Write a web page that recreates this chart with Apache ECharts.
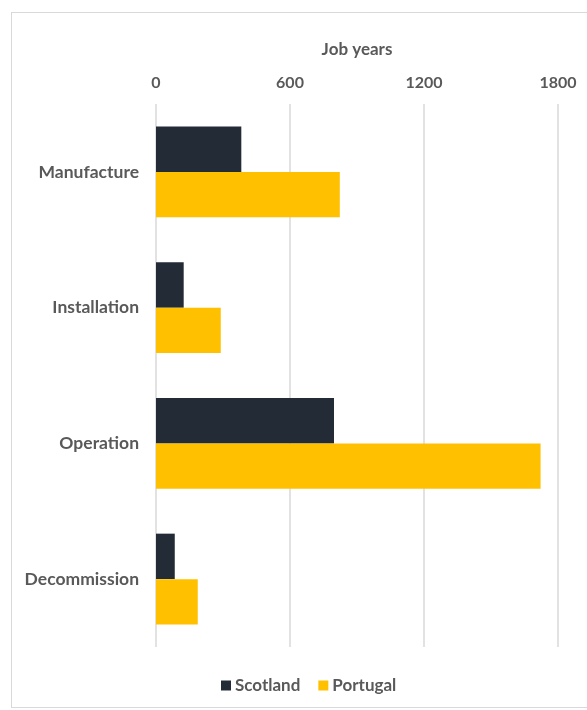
<!DOCTYPE html>
<html><head><meta charset="utf-8">
<script src="https://cdn.jsdelivr.net/npm/echarts@6/dist/echarts.min.js"></script>
<style>
html,body{margin:0;padding:0;background:#fff;width:587px;height:710px;overflow:hidden}
#frame{position:absolute;left:11px;top:12px;width:620px;height:696px;border:1px solid #d9d9d9;box-sizing:border-box}
#c{position:absolute;left:0;top:0;width:587px;height:710px}
</style></head>
<body><div id="frame"></div><div id="c"></div>
<script>
const categories = ['Manufacture', 'Installation', 'Operation', 'Decommission'];
const scotland = [382, 124, 797, 84];
const portugal = [823, 290, 1722, 187];
const xTicks = [0, 600, 1200, 1800];
const seriesNames = ['Scotland', 'Portugal'];

const txt = {color:'#595959', fontFamily:'Lato', fontWeight:'bold'};
const chart = echarts.init(document.getElementById('c'));
chart.setOption({
  animation:false,
  grid:{left:156, right:29, top:104, bottom:63, containLabel:false},
  legend:{
    data:seriesNames, bottom:11, left:216, itemWidth:10, itemHeight:10, itemGap:18,
    icon:'rect', textStyle:Object.assign({fontSize:17, padding:[0,0,0,-1]}, txt)
  },
  xAxis:{
    type:'value', position:'top', min:xTicks[0], max:xTicks[xTicks.length-1], interval:600,
    name:'Job years', nameLocation:'middle', nameGap:46,
    nameTextStyle:Object.assign({fontSize:17}, txt),
    axisLine:{show:false}, axisTick:{show:false},
    axisLabel:Object.assign({fontSize:16, margin:13, formatter:v=>String(v)}, txt),
    splitLine:{lineStyle:{color:'#d9d9d9', width:1.5}}
  },
  yAxis:{
    type:'category', data:categories, inverse:true,
    axisLine:{show:false}, axisTick:{show:false},
    axisLabel:Object.assign({fontSize:17.5, margin:17}, txt)
  },
  series:[
    {name:seriesNames[0], type:'bar', data:scotland, itemStyle:{color:'#232b37'}, barGap:'0%', barCategoryGap:'33%'},
    {name:seriesNames[1], type:'bar', data:portugal, itemStyle:{color:'#ffc000'}, barGap:'0%', barCategoryGap:'33%'}
  ]
});
</script></body></html>
